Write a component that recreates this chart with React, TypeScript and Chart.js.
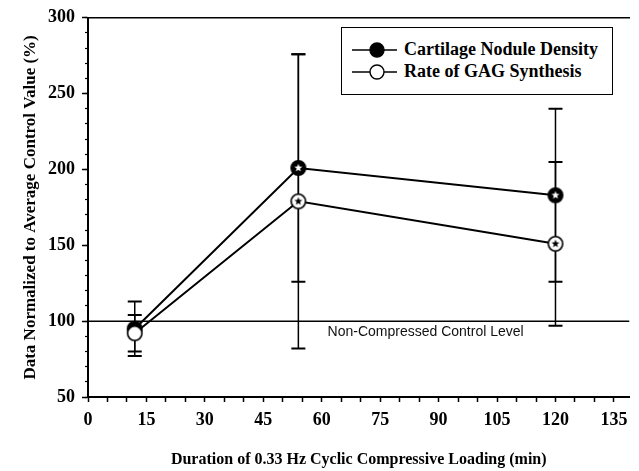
import React, { useEffect, useRef } from 'react';
import { Chart, registerables } from 'chart.js';

Chart.register(...registerables);

// ---- data ----
const durations = [12, 54, 120];
const noduleDensity = [95, 201, 183];
const noduleDensityErr = [18, 75, 57];
const gagSynthesis = [92, 179, 151];
const gagSynthesisErr = [12, 97, 54];
const significant = [false, true, true];
const controlLevel = 100;
const controlLabel = 'Non-Compressed Control Level';
const controlLabelAt = 61.5;
const seriesNames = ['Cartilage Nodule Density', 'Rate of GAG Synthesis'];
const xTitle = 'Duration of 0.33 Hz Cyclic Compressive Loading (min)';
const yTitle = 'Data Normalized to Average Control Value (%)';
const xMin = 0;
const xMax = 139;
const xMajorStep = 15;
const xMinorStep = 5;
const yMin = 50;
const yMax = 300;
const yMajorStep = 50;
const yMinorStep = 10;

const SERIF = "'Liberation Serif', 'Times New Roman', serif";
const SANS = "'Liberation Sans', Arial, sans-serif";

function makeMarker(filled: boolean, star: boolean): HTMLCanvasElement {
  const s = 18;
  const c = document.createElement('canvas');
  c.width = s;
  c.height = s;
  const g = c.getContext('2d')!;
  g.beginPath();
  g.arc(9, 9, 7.2, 0, Math.PI * 2);
  g.fillStyle = filled ? '#000' : '#fff';
  g.fill();
  g.lineWidth = 1.6;
  g.strokeStyle = '#000';
  g.stroke();
  if (star) {
    g.beginPath();
    const ro = 4.2;
    const ri = 1.8;
    for (let k = 0; k < 10; k++) {
      const r = k % 2 === 0 ? ro : ri;
      const a = -Math.PI / 2 + (k * Math.PI) / 5;
      const px = 9 + r * Math.cos(a);
      const py = 9 + r * Math.sin(a);
      if (k === 0) g.moveTo(px, py);
      else g.lineTo(px, py);
    }
    g.closePath();
    g.fillStyle = filled ? '#fff' : '#000';
    g.fill();
  }
  return c;
}

const errorBarPlugin = {
  id: 'errorBars',
  beforeDatasetsDraw(chart: any) {
    const { ctx, scales } = chart;
    const x = scales.x;
    const y = scales.y;
    const groups: [number[], number[]][] = [
      [noduleDensity, noduleDensityErr],
      [gagSynthesis, gagSynthesisErr],
    ];
    ctx.save();
    ctx.strokeStyle = '#000';
    groups.forEach(([vals, errs]) => {
      durations.forEach((d, i) => {
        const px = x.getPixelForValue(d);
        const top = y.getPixelForValue(vals[i] + errs[i]);
        const bot = y.getPixelForValue(vals[i] - errs[i]);
        ctx.lineWidth = 1.5;
        ctx.beginPath();
        ctx.moveTo(px, top);
        ctx.lineTo(px, bot);
        ctx.stroke();
        ctx.lineWidth = 2;
        ctx.beginPath();
        ctx.moveTo(px - 7, top);
        ctx.lineTo(px + 7, top);
        ctx.moveTo(px - 7, bot);
        ctx.lineTo(px + 7, bot);
        ctx.stroke();
      });
    });
    ctx.restore();
  },
};

const controlLabelPlugin = {
  id: 'controlLabel',
  afterDatasetsDraw(chart: any) {
    const { ctx, scales } = chart;
    const px = scales.x.getPixelForValue(controlLabelAt);
    const py = scales.y.getPixelForValue(controlLevel);
    ctx.save();
    ctx.font = `14px ${SANS}`;
    ctx.fillStyle = '#111';
    ctx.textAlign = 'left';
    ctx.textBaseline = 'alphabetic';
    ctx.fillText(controlLabel, px, py + 15);
    ctx.restore();
  },
};

function LegendMarker({ filled }: { filled: boolean }) {
  return (
    <svg width="50" height="18" style={{ position: 'absolute', left: 8, top: -9 }}>
      <line x1="2" y1="9" x2="47" y2="9" stroke="#000" strokeWidth="1.4" />
      <circle cx="27" cy="9" r="7" fill={filled ? '#000' : '#fff'} stroke="#000" strokeWidth="1.4" />
    </svg>
  );
}

export default function App() {
  const canvasRef = useRef<HTMLCanvasElement | null>(null);

  useEffect(() => {
    if (!canvasRef.current) return;
    const densPlain = makeMarker(true, false);
    const densStar = makeMarker(true, true);
    const gagPlain = makeMarker(false, false);
    const gagStar = makeMarker(false, true);

    const chart = new Chart(canvasRef.current, {
      type: 'line',
      data: {
        datasets: [
          {
            label: 'control',
            data: [
              { x: xMin, y: controlLevel },
              { x: xMax, y: controlLevel },
            ],
            borderColor: '#000',
            borderWidth: 1.5,
            pointRadius: 0,
            order: 3,
          },
          {
            label: seriesNames[0],
            data: durations.map((d, i) => ({ x: d, y: noduleDensity[i] })),
            borderColor: '#000',
            borderWidth: 2,
            pointRadius: 7.5,
            pointStyle: durations.map((_, i) => (significant[i] ? densStar : densPlain)) as any,
            order: 2,
          },
          {
            label: seriesNames[1],
            data: durations.map((d, i) => ({ x: d, y: gagSynthesis[i] })),
            borderColor: '#000',
            borderWidth: 2,
            pointRadius: 7.5,
            pointStyle: durations.map((_, i) => (significant[i] ? gagStar : gagPlain)) as any,
            order: 1,
          },
        ],
      },
      options: {
        animation: false,
        responsive: false,
        maintainAspectRatio: false,
        layout: { padding: { left: 0, top: 16, right: 9, bottom: 0 } },
        plugins: {
          legend: { display: false },
          tooltip: { enabled: false },
        },
        scales: {
          x: {
            type: 'linear',
            position: 'bottom',
            min: xMin,
            max: xMax,
            afterFit: (s: any) => {
              s.height = 74;
            },
            ticks: {
              stepSize: xMinorStep,
              autoSkip: false,
              maxRotation: 0,
              includeBounds: false,
              padding: 8,
              color: '#000',
              font: { family: SERIF, size: 18, weight: 'bold' },
              callback: (v: any) => (Number(v) % xMajorStep === 0 ? String(v) : ''),
            },
            grid: {
              drawOnChartArea: false,
              drawTicks: true,
              tickLength: 5,
              tickWidth: 1.5,
              tickColor: '#000',
            },
            border: { display: true, color: '#000', width: 2 },
            title: {
              display: true,
              text: xTitle,
              color: '#000',
              font: { family: SERIF, size: 16, weight: 'bold' },
              padding: { top: 0, bottom: 2 },
            },
          },
          x2: {
            type: 'linear',
            position: 'top',
            min: xMin,
            max: xMax,
            afterFit: (s: any) => {
              s.height = 0;
            },
            ticks: { display: false },
            grid: { display: false },
            border: { display: true, color: '#000', width: 1.5 },
          },
          y: {
            type: 'linear',
            position: 'left',
            min: yMin,
            max: yMax,
            weight: 0,
            afterFit: (s: any) => {
              s.width = 88;
            },
            ticks: {
              stepSize: yMajorStep,
              padding: 7,
              color: '#000',
              font: { family: SERIF, size: 18, weight: 'bold' },
            },
            grid: {
              drawOnChartArea: false,
              drawTicks: true,
              tickLength: 6,
              tickWidth: 1.5,
              tickColor: '#000',
            },
            border: { display: true, color: '#000', width: 2 },
            title: {
              display: true,
              text: yTitle,
              color: '#000',
              font: { family: SERIF, size: 17, weight: 'bold' },
              padding: { top: 20, bottom: 0 },
            },
          },
          yMinor: {
            type: 'linear',
            position: 'left',
            min: yMin,
            max: yMax,
            weight: -1,
            afterFit: (s: any) => {
              s.width = 0;
            },
            ticks: { display: false, stepSize: yMinorStep },
            grid: {
              drawOnChartArea: false,
              drawTicks: true,
              tickLength: 3,
              tickWidth: 1.2,
              tickColor: '#000',
            },
            border: { display: false },
          },
        },
      } as any,
      plugins: [errorBarPlugin, controlLabelPlugin],
    });
    return () => chart.destroy();
  }, []);

  const rowText: React.CSSProperties = {
    position: 'absolute',
    left: 62,
    top: -12,
    font: `bold 18px ${SERIF}`,
    lineHeight: '22px',
    color: '#000',
    whiteSpace: 'nowrap',
  };

  return (
    <div style={{ position: 'fixed', left: 0, top: 0, width: 639, height: 471, background: '#fff' }}>
      <canvas ref={canvasRef} width={639} height={471} style={{ position: 'absolute', left: 0, top: 0, width: 639, height: 471 }} />
      <div
        style={{
          position: 'absolute',
          left: 341,
          top: 27,
          width: 272,
          height: 68,
          border: '1.5px solid #000',
          boxSizing: 'border-box',
          background: '#fff',
        }}
      >
        <div style={{ position: 'absolute', left: 0, top: 22 }}>
          <LegendMarker filled={true} />
          <span style={rowText}>{seriesNames[0]}</span>
        </div>
        <div style={{ position: 'absolute', left: 0, top: 44 }}>
          <LegendMarker filled={false} />
          <span style={rowText}>{seriesNames[1]}</span>
        </div>
      </div>
    </div>
  );
}
